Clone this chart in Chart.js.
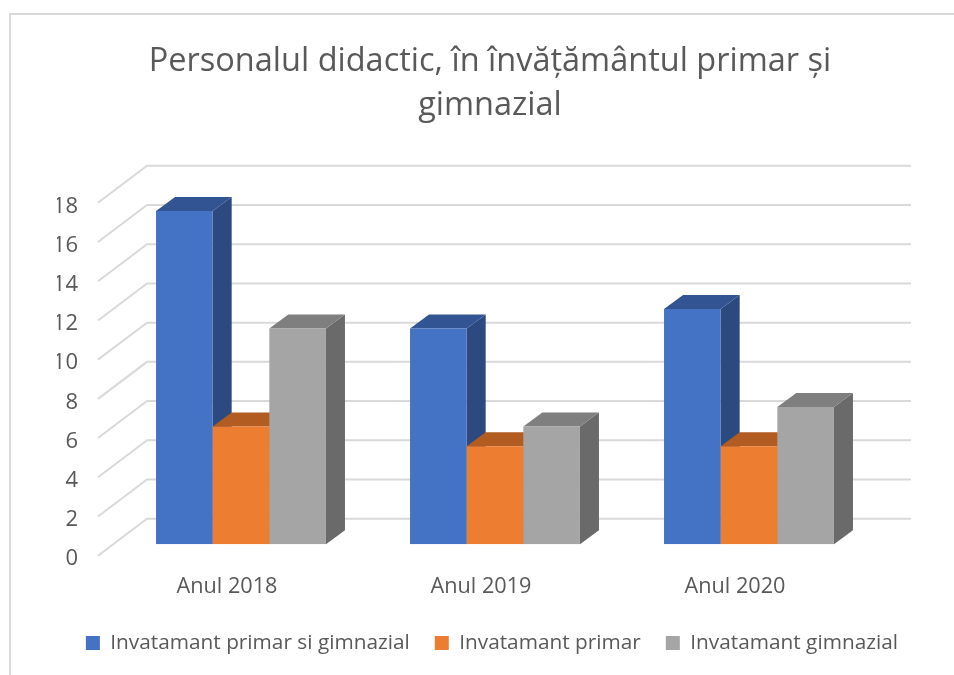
<!DOCTYPE html>
<html>
<head>
<meta charset="utf-8">
<style>
html,body{margin:0;background:#fff;overflow:hidden}
#wrap{position:relative;width:954px;height:675px}
#frame{position:absolute;left:9px;top:13px;right:0;bottom:0;border-left:2px solid #d9d9d9;border-top:2px solid #d9d9d9}
canvas{position:absolute;left:0;top:0}
</style>
<script src="https://cdn.jsdelivr.net/npm/chart.js@4"></script>
</head>
<body>
<div id="wrap"><div id="frame"></div><canvas id="c" width="954" height="675"></canvas></div>
<script>
const FONT='"Open Sans"';
const titleLines=['Personalul didactic, în învățământul primar și','gimnazial'];
const categories=['Anul 2018','Anul 2019','Anul 2020'];
const seriesNames=['Invatamant primar si gimnazial','Invatamant primar','Invatamant gimnazial'];
const primarGimnazial=[17,11,12];
const primar=[6,5,5];
const gimnazial=[11,6,7];
const frontColors=['#4472c4','#ed7d31','#a5a5a5'];
const sideColors=['#2c4a80','#ae5a23','#6a6a6a'];
const topColors=['#325492','#b35c22','#7f7f7f'];

// 3D look: bars get side and top faces, the grid gets a back and a left wall
const DX=19,DY=14;
const walls={
  id:'walls',
  beforeDatasetsDraw(chart){
    const {ctx,chartArea:a,scales:{y}}=chart;
    ctx.save();ctx.strokeStyle='#d9d9d9';ctx.lineWidth=2;
    y.ticks.forEach(t=>{
      const py=y.getPixelForValue(t.value);
      ctx.beginPath();
      ctx.moveTo(a.left-16,py+11.5);
      ctx.lineTo(a.left+33,py-25.5);
      ctx.lineTo(a.right+35,py-25.5);
      ctx.stroke();
    });
    // faces go left to right so each one overlaps its left neighbour, fronts come after from the library
    chart.data.datasets.forEach((ds,i)=>{
      chart.getDatasetMeta(i).data.forEach(b=>{
        const l=b.x-b.width/2,r=b.x+b.width/2;
        ctx.fillStyle=sideColors[i];
        ctx.beginPath();ctx.moveTo(r,b.y);ctx.lineTo(r+DX,b.y-DY);ctx.lineTo(r+DX,b.base-DY);ctx.lineTo(r,b.base);ctx.closePath();ctx.fill();
        ctx.fillStyle=topColors[i];
        ctx.beginPath();ctx.moveTo(l,b.y);ctx.lineTo(l+DX,b.y-DY);ctx.lineTo(r+DX,b.y-DY);ctx.lineTo(r,b.y);ctx.closePath();ctx.fill();
      });
    });
    ctx.restore();
  }
};

new Chart(document.getElementById('c'),{
  type:'bar',
  plugins:[walls],
  data:{labels:categories,datasets:[
    {label:seriesNames[0],data:primarGimnazial,backgroundColor:frontColors[0]},
    {label:seriesNames[1],data:primar,backgroundColor:frontColors[1]},
    {label:seriesNames[2],data:gimnazial,backgroundColor:frontColors[2]}
  ]},
  options:{
    responsive:false,animation:false,
    layout:{padding:{left:57,right:31,top:0,bottom:11.5}},
    datasets:{bar:{categoryPercentage:.669,barPercentage:1}},
    plugins:{
      tooltip:{enabled:false},
      title:{display:true,text:titleLines,color:'#595959',font:{family:FONT,size:32.5,weight:'normal',lineHeight:1.354},padding:{top:40,bottom:63.3}},
      legend:{position:'bottom',align:'end',labels:{boxWidth:14,boxHeight:14,padding:25,color:'#595959',font:{family:FONT,size:20.8}}}
    },
    scales:{
      x:{grid:{display:false,drawTicks:false},border:{display:false},
        ticks:{color:'#595959',font:{family:FONT,size:21.7},padding:29.5,labelOffset:-14,maxRotation:0},
        afterFit(s){s.height=63.5;}},
      y:{min:0,max:18,grid:{display:false,drawTicks:false},border:{display:false},
        ticks:{stepSize:2,color:'#595959',font:{family:FONT,size:22},padding:36,labelOffset:15},
        afterFit(s){s.width=57;}},
      yR:{position:'right',grid:{display:false,drawTicks:false},border:{display:false},ticks:{display:false},afterFit(s){s.width=47;}}
    }
  }
});
</script>
</body>
</html>
